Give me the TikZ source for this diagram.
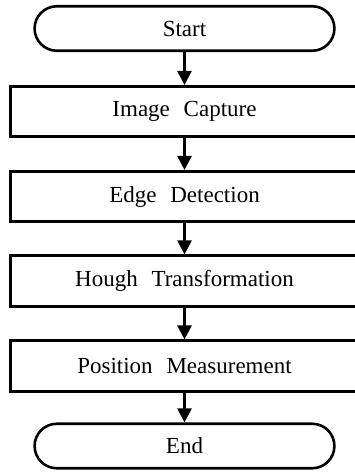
\documentclass[tikz,border=0pt]{standalone}
\usepackage{fontspec}
\setmainfont{Liberation Serif}
\usetikzlibrary{shapes.misc,arrows.meta,positioning}
\tikzset{
block/.style = {draw, fill=white, rectangle, minimum height=50.5pt, minimum width=348.5pt, line width=2.6pt},
term/.style  = {draw, fill=white, rounded rectangle, minimum height=44.5pt, minimum width=306.5pt, line width=2.6pt},
txt/.style   = {font={\fontsize{23pt}{27pt}\selectfont\spaceskip=.6em\relax}},
flow/.style  = {line width=2.6pt, -{Triangle[length=14pt,width=14pt]}}
}

\begin{document}
\begin{tikzpicture}[x=1pt, y=-1pt, node distance=85pt]
  \useasboundingbox (0,0) rectangle (354,474);
  \node [term, txt] at (184.5,28.5)                      (start)    {Start};
  \node [block, txt, below of=start, node distance=83pt] (capture)  {Image Capture};
  \node [block, txt, below of=capture]                   (edge)     {Edge Detection};
  \node [block, txt, below of=edge, node distance=84.5pt](hough)    {Hough Transformation};
  \node [block, txt, below of=hough]                     (position) {Position Measurement};
  \node [term, txt, below of=position, node distance=80pt] (finish) {End};

  \draw [flow] (start) -- (capture);
  \draw [flow] (capture) -- (edge);
  \draw [flow] (edge) -- (hough);
  \draw [flow] (hough) -- (position);
  \draw [flow] (position) -- (finish);
\end{tikzpicture}
\end{document}
